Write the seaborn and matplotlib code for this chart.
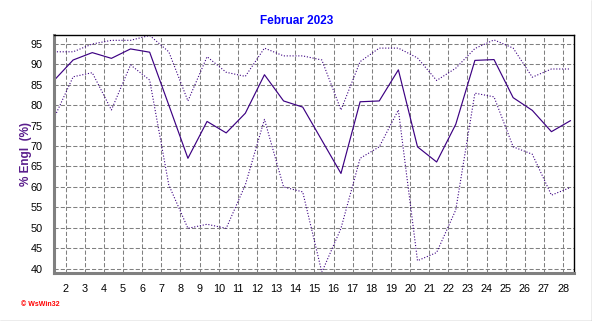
import numpy as np
import pandas as pd
import matplotlib
matplotlib.use("Agg")
import matplotlib.pyplot as plt
from matplotlib.ticker import MultipleLocator
from matplotlib.lines import Line2D
import seaborn as sns

# ---- data ----
days = list(range(1, 29))
mean_vals = [86.0, 91.0, 92.8, 91.4, 93.7, 92.9, 80.0, 67.0, 76.0, 73.2,
             78.0, 87.4, 81.0, 79.5, 71.4, 63.3, 80.8, 81.0, 88.6, 69.8,
             66.1, 75.3, 90.9, 91.1, 81.8, 78.7, 73.5, 76.2]
max_vals = [93.0, 93.0, 94.9, 95.8, 95.8, 97.0, 93.0, 81.0, 91.8, 88.0,
            87.0, 93.9, 92.0, 92.0, 91.0, 78.8, 90.6, 93.9, 93.9, 91.5,
            86.0, 89.0, 93.8, 95.9, 93.9, 86.8, 88.8, 88.8]
min_vals = [76.8, 86.9, 87.9, 78.8, 89.8, 86.1, 60.5, 49.9, 50.9, 49.9,
            60.5, 76.5, 60.0, 58.8, 39.2, 49.9, 67.0, 69.8, 78.8, 42.0,
            44.0, 54.4, 82.9, 82.0, 69.8, 68.0, 58.0, 59.9]
x_ticks = list(range(2, 29))
y_ticks = list(range(40, 100, 5))
title = "Februar 2023"
ylabel = "% Engl  (%)"

# day values are plotted a little after the day boundary
offset = 0.39
df = pd.DataFrame({"x": np.array(days) + offset, "mean": mean_vals,
                   "max": max_vals, "min": min_vals})

sns.set_theme(style="white")
plt.rcParams["font.family"] = ["Liberation Sans", "DejaVu Sans"]

W, H = 592, 321
fig = plt.figure(figsize=(W / 100, H / 100), dpi=100)
ax = fig.add_axes([54 / W, (H - 273) / H, 520 / W, 238 / H])

line_col = "#3c0082"
sns.lineplot(data=df, x="x", y="max", ax=ax, color=line_col, lw=0.8,
             linestyle=(0, (1, 1.6)))
sns.lineplot(data=df, x="x", y="min", ax=ax, color=line_col, lw=0.8,
             linestyle=(0, (1, 1.6)))
sns.lineplot(data=df, x="x", y="mean", ax=ax, color=line_col, lw=0.85)

ax.set_xlim(1.39, 28.57)
ax.set_ylim(39.0, 97.1)
ax.set_xticks(x_ticks)
ax.set_xticklabels([str(t) for t in x_ticks])
ax.set_yticks(y_ticks)
ax.xaxis.set_minor_locator(MultipleLocator(0.2))
ax.yaxis.set_minor_locator(MultipleLocator(1))

ax.grid(True, which="major", color="#808080", linestyle=(0, (4, 2)), lw=0.75)
ax.set_axisbelow(True)
ax.set_xlabel("")
ax.set_ylabel(ylabel, color="#5a1e8c", fontsize=8.5, fontweight="bold")
ax.yaxis.set_label_coords(-22 / 520, 0.5)

ax.tick_params(axis="both", which="major", labelsize=7.8, colors="black",
               length=3, width=0.8, direction="out", pad=5)
ax.tick_params(axis="both", which="minor", length=2, width=0.7,
               direction="out")
ax.tick_params(axis="x", which="both", color="#606060")
ax.tick_params(axis="y", which="both", color="#606060")

for s in ["left", "bottom"]:
    ax.spines[s].set_color("#808080")
    ax.spines[s].set_linewidth(2.2)
for s in ["top", "right"]:
    ax.spines[s].set_color("black")
    ax.spines[s].set_linewidth(1.0)
    ax.spines[s].set_visible(True)

fig.text(297 / W, 1 - 21 / H, title, color="#0000ff", fontsize=8.5,
         fontweight="bold", ha="center", va="center")
fig.text(21 / W, 1 - 304 / H, "\u00a9 WsWin32", color="#ff0000", fontsize=5,
         fontweight="bold", ha="left", va="center")

# outer frame (right and bottom)
fig.add_artist(Line2D([1 - 0.5 / W, 1 - 0.5 / W], [0, 1], color="#a0a0a0",
                      lw=1.0, transform=fig.transFigure))
fig.add_artist(Line2D([0, 1], [0.5 / H, 0.5 / H], color="#a0a0a0",
                      lw=1.0, transform=fig.transFigure))

fig.savefig("out.png", dpi=100, facecolor="white")
